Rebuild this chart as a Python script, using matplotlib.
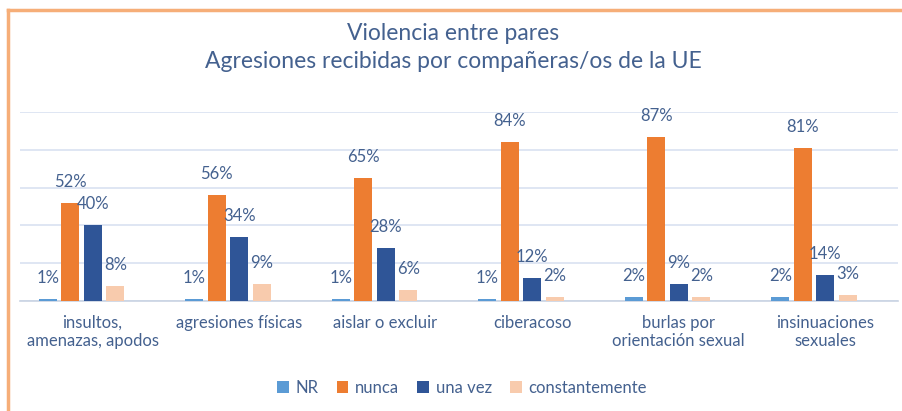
import numpy as np
import matplotlib
matplotlib.use("Agg")
import matplotlib.pyplot as plt
from matplotlib.lines import Line2D
from matplotlib.patches import Patch

# Data
categories = ["insultos,\namenazas, apodos", "agresiones físicas", "aislar o excluir",
              "ciberacoso", "burlas por\norientación sexual", "insinuaciones\nsexuales"]
series_names = ["NR", "nunca", "una vez", "constantemente"]
nr = [1, 1, 1, 1, 2, 2]
nunca = [52, 56, 65, 84, 87, 81]
una_vez = [40, 34, 28, 12, 9, 14]
constantemente = [8, 9, 6, 2, 2, 3]

colors = ["#5B9BD5", "#ED7D31", "#2F5597", "#F8CBAD"]
text_color = "#44618F"
grid_color = "#D9E2F1"

plt.rcParams['font.family'] = ['Lato', 'DejaVu Sans']

W, H = 903, 411
fig = plt.figure(figsize=(W / 100, H / 100), dpi=100)

# orange frame (left and top edges visible in the reference)
fig.add_artist(Line2D([8 / W, 8 / W], [0, 1 - 10 / H], transform=fig.transFigure,
                      color="#F6AE78", lw=2.5))
fig.add_artist(Line2D([8 / W, 1], [1 - 10 / H, 1 - 10 / H], transform=fig.transFigure,
                      color="#F6AE78", lw=2.5))

ax = fig.add_axes([20 / W, 1 - 301 / H, 878 / W, (301 - 112) / H])

x = np.arange(len(categories))
step = 0.154
width = 0.123
all_series = [nr, nunca, una_vez, constantemente]
for k, (name, vals, c) in enumerate(zip(series_names, all_series, colors)):
    pos = x + (k - 1.5) * step
    ax.bar(pos, vals, width=width, color=c, label=name, zorder=3)
    for px, v in zip(pos, vals):
        ax.annotate(f"{v}%", (px, v), xytext=(0, 21), textcoords="offset pixels",
                    ha="center", va="center", fontsize=12, color=text_color)

ax.set_xlim(-0.42, 5.573)
ax.set_ylim(0, 100)
ax.set_yticks(np.arange(0, 101, 20))
ax.yaxis.grid(True, color=grid_color, lw=1.2, zorder=0)
ax.tick_params(axis="y", left=False, labelleft=False)
ax.set_xticks(x + 0.075)
ax.set_xticklabels(categories, fontsize=12, color=text_color, linespacing=1.15)
ax.tick_params(axis="x", length=0, pad=10)
for s in ["top", "right", "left"]:
    ax.spines[s].set_visible(False)
ax.spines["bottom"].set_color("#C9D3E3")
ax.spines["bottom"].set_linewidth(1.2)

fig.text(453 / W, 1 - 33 / H, "Violencia entre pares", ha="center", va="center",
         fontsize=16.5, color=text_color)
fig.text(453 / W, 1 - 62 / H, "Agresiones recibidas por compañeras/os de la UE",
         ha="center", va="center", fontsize=16.5, color=text_color)

handles = [Patch(facecolor=c, edgecolor="none") for c in colors]
fig.legend(handles, series_names, loc="center", bbox_to_anchor=(462 / W, 1 - 388 / H),
           ncol=4, frameon=False, fontsize=12, labelcolor=text_color,
           handlelength=0.7, handleheight=0.7, handletextpad=0.4, columnspacing=1.1)

fig.savefig("out.png", dpi=100)
